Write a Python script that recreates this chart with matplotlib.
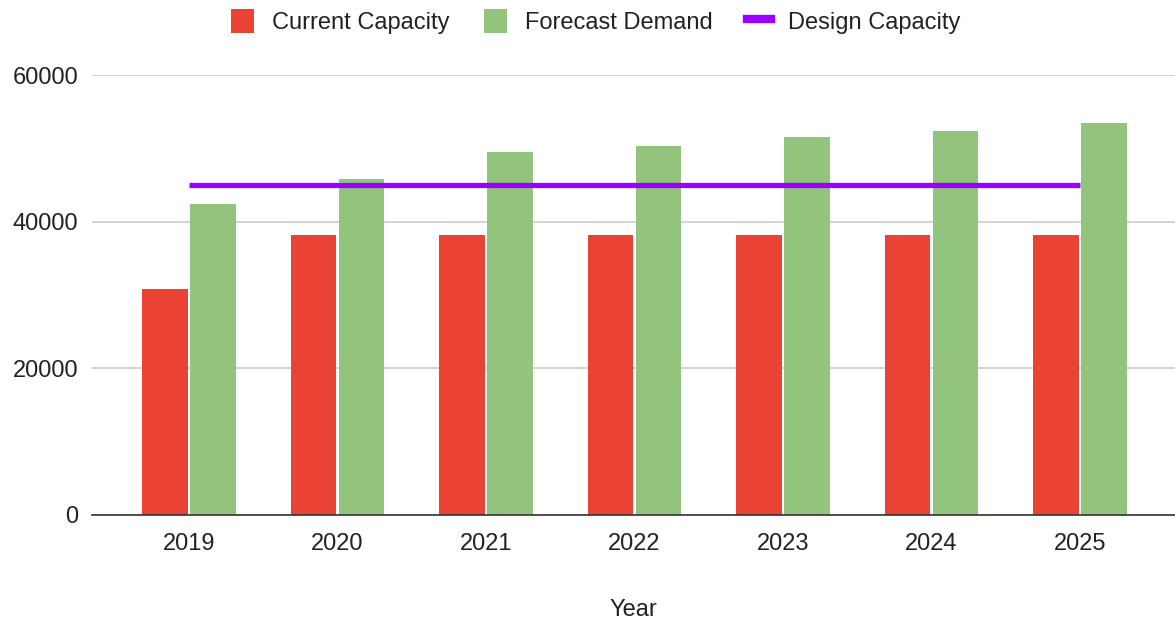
import numpy as np
import matplotlib.pyplot as plt
from matplotlib.lines import Line2D
from matplotlib.patches import Patch

plt.rcParams['font.family'] = ['Liberation Sans', 'DejaVu Sans']

# Data
years = ["2019", "2020", "2021", "2022", "2023", "2024", "2025"]
current_capacity = [30800, 38200, 38200, 38200, 38200, 38200, 38200]
forecast_demand = [42400, 45800, 49500, 50300, 51500, 52400, 53500]
design_capacity = [45000, 45000, 45000, 45000, 45000, 45000, 45000]

red = '#EA4335'
green = '#93C47D'
purple = '#9900FF'
fs = 17

fig = plt.figure(figsize=(11.75, 6.21), dpi=100)
ax = fig.add_axes([0.0783, 0.1707, 0.9217, 0.7085])

x = np.arange(len(years))
w = 0.305
ax.bar(x - 0.161, current_capacity, width=w, color=red, zorder=2)
ax.bar(x + 0.161, forecast_demand, width=w, color=green, zorder=2)
ax.plot(x, design_capacity, color=purple, linewidth=3.8, zorder=3, solid_capstyle='butt')

ax.set_xlim(-0.653, 6.64)
ax.set_ylim(0, 60000)
ax.set_yticks([0, 20000, 40000, 60000])
ax.set_yticklabels(["0", "20000", "40000", "60000"])
ax.set_xticks(x)
ax.set_xticklabels(years)
ax.tick_params(axis='both', length=0, labelsize=fs, colors='#222222')
ax.tick_params(axis='y', pad=10)
ax.tick_params(axis='x', pad=13)

ax.grid(axis='y', color='#cccccc', linewidth=1.2, zorder=0)
for s in ['top', 'right', 'left']:
    ax.spines[s].set_visible(False)
ax.spines['bottom'].set_color('#333333')
ax.spines['bottom'].set_linewidth(1.2)
ax.spines['bottom'].set_zorder(4)

ax.set_xlabel("Year", fontsize=fs, color='#222222', labelpad=32)

handles = [
    Patch(facecolor=red, edgecolor='none', label='Current Capacity'),
    Patch(facecolor=green, edgecolor='none', label='Forecast Demand'),
    Line2D([0], [0], color=purple, linewidth=6, label='Design Capacity'),
]
fig.legend(handles=handles, loc='center', bbox_to_anchor=(0.507, 0.965), ncol=3,
           frameon=False, fontsize=fs, handlelength=1.0, handleheight=1.2,
           columnspacing=1.45, handletextpad=0.75, labelcolor='#222222')

plt.savefig("out.png", dpi=100)
